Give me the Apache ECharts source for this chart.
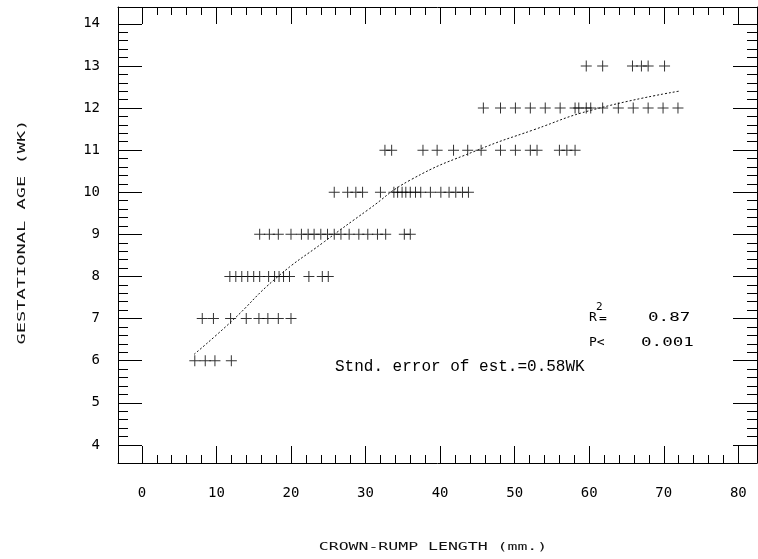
<!DOCTYPE html>
<html>
<head>
<meta charset="utf-8">
<script src="https://cdn.jsdelivr.net/npm/echarts@6/dist/echarts.min.js"></script>
<style>
  html, body { margin: 0; padding: 0; background: #fff; }
  #chart { width: 758px; height: 559px; }
</style>
</head>
<body>
<div id="chart"></div>
<script>
// crown-rump length (mm) of each case, grouped by gestational age row (weeks)
const row6 = [7.1, 8.5, 9.8, 12.0];
const row7 = [8.1, 9.6, 11.9, 14.0, 15.7, 16.9, 18.3, 20.0];
const row8 = [11.8, 12.6, 13.4, 14.2, 15.0, 15.8, 17.0, 17.8, 18.4, 19.0, 19.8, 22.4, 24.2, 25.0];
const row9 = [15.8, 17.1, 18.3, 20.0, 21.4, 22.3, 23.1, 24.0, 24.9, 25.8, 26.7, 27.8, 29.1, 30.3, 31.6, 32.7, 35.2, 36.0];
const row10 = [25.8, 27.6, 28.7, 29.6, 32.0, 33.8, 34.3, 34.9, 35.4, 36.0, 36.7, 37.4, 38.7, 40.1, 41.2, 42.1, 43.0, 43.8];
const row11 = [32.6, 33.5, 37.7, 39.6, 41.8, 43.7, 45.5, 48.1, 50.1, 52.1, 53.0, 56.0, 57.0, 58.1];
const row12 = [45.8, 48.1, 50.1, 52.1, 54.1, 56.1, 58.1, 58.6, 59.6, 60.2, 61.8, 63.9, 65.9, 67.9, 69.9, 71.9];
const row13 = [59.6, 61.8, 65.8, 67.0, 67.9, 70.1];
const rowWeeks = [6, 7, 8, 9, 10, 11, 12, 13];

// fitted curve
const fitX = [7, 12, 18, 24.5, 30.3, 36, 45, 52.5, 60.5, 72];
const fitY = [6.15, 6.93, 7.96, 8.83, 9.58, 10.29, 11.0, 11.48, 11.96, 12.4];

// tick labels
const xTicks = [0, 10, 20, 30, 40, 50, 60, 70, 80];
const yTicks = [4, 5, 6, 7, 8, 9, 10, 11, 12, 13, 14];

const chart = echarts.init(document.getElementById('chart'));

const rows = [row6, row7, row8, row9, row10, row11, row12, row13];
const points = [];
rows.forEach((r, i) => r.forEach(x => points.push([x, rowWeeks[i]])));

// minor ticks: every 2 mm, every 0.2 wk
const xMinor = [];
for (let v = 0; v <= 80; v += 2) xMinor.push(v);
const yMinor = [];
for (let i = 0; i <= 50; i++) yMinor.push(Math.round((4 + i * 0.2) * 10) / 10);

const X_MIN = -3.2, X_MAX = 82.5, Y_MIN = 3.57, Y_MAX = 14.4;
const black = '#000';
const tickFont = { fontFamily: 'DejaVu Sans Mono', fontSize: 14, color: '#000' };

function xAx(pos, major, withLabel) {
    return {
        type: 'value', position: pos, min: X_MIN, max: X_MAX,
        axisLine: { show: major, onZero: false, lineStyle: { color: black, width: 1 } },
        axisTick: { show: true, inside: true, length: major ? 17 : 8,
                    customValues: major ? xTicks : xMinor,
                    lineStyle: { color: black, width: 1 } },
        axisLabel: withLabel ? Object.assign({ show: true, margin: 23, customValues: xTicks }, tickFont) : { show: false },
        splitLine: { show: false }
    };
}
function yAx(pos, major, withLabel) {
    return {
        type: 'value', position: pos, min: Y_MIN, max: Y_MAX,
        axisLine: { show: major, onZero: false, lineStyle: { color: black, width: 1 } },
        axisTick: { show: true, inside: true, length: major ? 24 : 10,
                    customValues: major ? yTicks : yMinor,
                    lineStyle: { color: black, width: 1 } },
        axisLabel: withLabel ? Object.assign({ show: true, margin: 18, customValues: yTicks }, tickFont) : { show: false },
        splitLine: { show: false }
    };
}

const plus = 'path://M0,5H11V6H0Z M5,0H6V11H5Z';
const small = { fontFamily: 'DejaVu Sans Mono', fontSize: 13, fill: '#000', textVerticalAlign: 'middle' };

chart.setOption({
    animation: false,
    backgroundColor: '#fff',
    grid: { left: 118, right: 1, top: 7, bottom: 96 },
    xAxis: [xAx('bottom', true, true), xAx('bottom', false, false), xAx('top', true, false), xAx('top', false, false)],
    yAxis: [yAx('left', true, true), yAx('left', false, false), yAx('right', true, false), yAx('right', false, false)],
    series: [
        {
            type: 'scatter',
            data: points,
            symbol: plus,
            symbolSize: 11,
            itemStyle: { color: '#000' }
        },
        {
            type: 'line',
            data: fitX.map((x, i) => [x, fitY[i]]),
            smooth: true,
            showSymbol: false,
            lineStyle: { color: '#111', width: 1, type: [2, 2] }
        }
    ],
    graphic: [
        { type: 'text', x: 22, y: 232, rotation: Math.PI / 2, scaleX: 1.7,
          style: { text: 'GESTATIONAL AGE (WK)', fontFamily: 'DejaVu Sans Mono', fontSize: 11, fill: '#111',
                   textAlign: 'center', textVerticalAlign: 'middle' } },
        { type: 'text', x: 433, y: 547, scaleX: 1.5,
          style: { text: 'CROWN-RUMP LENGTH (mm.)', fontFamily: 'DejaVu Sans Mono', fontSize: 11, fill: '#111',
                   textAlign: 'center', textVerticalAlign: 'middle' } },
        { type: 'text', x: 589, y: 318, style: Object.assign({ text: 'R' }, small) },
        { type: 'text', x: 596, y: 307, style: { text: '2', fontFamily: 'DejaVu Sans Mono', fontSize: 11, fill: '#000', textVerticalAlign: 'middle' } },
        { type: 'text', x: 599, y: 319, style: Object.assign({ text: '=' }, small) },
        { type: 'text', x: 648, y: 318, scaleX: 1.35, style: Object.assign({ text: '0.87' }, small) },
        { type: 'text', x: 589, y: 343, style: Object.assign({ text: 'P<' }, small) },
        { type: 'text', x: 641, y: 343, scaleX: 1.35, style: Object.assign({ text: '0.001' }, small) },
        { type: 'text', x: 335, y: 367,
          style: { text: 'Stnd. error of est.=0.58WK', fontFamily: 'Liberation Mono', fontSize: 16, fill: '#000',
                   textVerticalAlign: 'middle' } }
    ]
});
</script>
</body>
</html>
